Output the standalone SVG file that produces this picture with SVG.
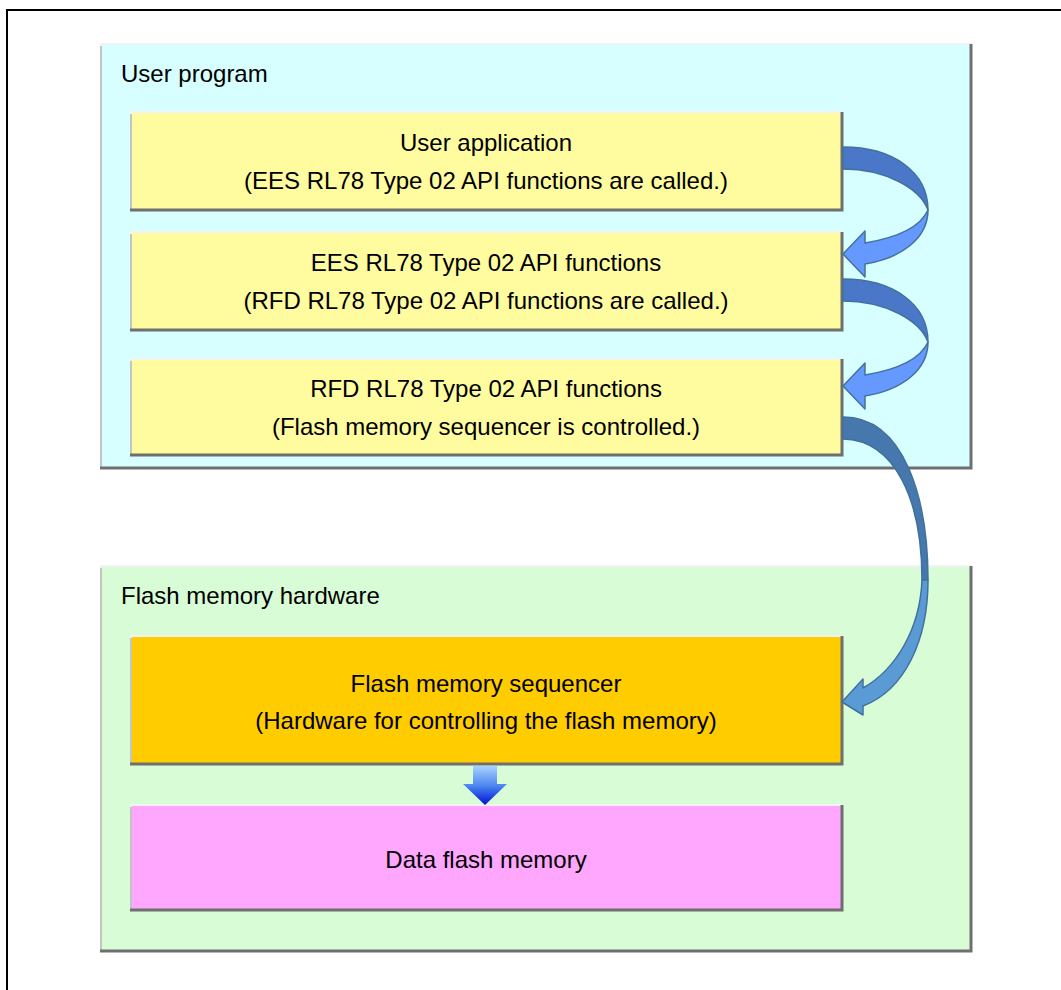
<svg xmlns="http://www.w3.org/2000/svg" width="1061" height="990" viewBox="0 0 1061 990">
<style>
text{font-family:"Liberation Sans",Arial,sans-serif;font-size:24px;fill:#000}
.c{text-anchor:middle}
.hi{fill:none;stroke:#f2f2f2;stroke-width:2}
.lo{fill:none;stroke:#c4c4c4;stroke-width:2}
.dk{fill:none;stroke:#6f6f6f;stroke-width:3}
.arrA{stroke:#41719c;stroke-width:1.5;stroke-linejoin:round}
</style>
<defs>
<linearGradient id="gdown" x1="0" y1="0" x2="0" y2="1">
<stop offset="0" stop-color="#a9d2ff"/>
<stop offset="0.5" stop-color="#4d88f0"/>
<stop offset="1" stop-color="#0010d8"/>
</linearGradient>
</defs>
<rect width="1061" height="990" fill="#fff"/>
<rect x="7" y="10" width="1100" height="1000" fill="none" stroke="#000" stroke-width="2"/>

<g id="user-program">
<rect x="100" y="43" width="872" height="426" fill="#d7ffff"/>
<polyline class="hi" points="101,468 101,44 972,44"/>
<polyline class="lo" points="101,468 101,46"/>
<polyline class="dk" points="971,44 971,468 100,468"/>
<text x="121" y="82">User program</text>
</g>

<g id="flash-hardware">
<rect x="100" y="565" width="872" height="387" fill="#d8fcd6"/>
<polyline class="hi" points="101,951 101,566 972,566"/>
<polyline class="lo" points="101,951 101,568"/>
<polyline class="dk" points="971,566 971,951 100,951"/>
<text x="121" y="604">Flash memory hardware</text>
</g>

<g id="user-application">
<rect x="130" y="111" width="713" height="100" fill="#fffca0"/>
<polyline class="hi" points="131,210 131,112 843,112"/>
<polyline class="lo" points="131,210 131,114"/>
<polyline class="dk" points="842,112 842,210 130,210"/>
<text class="c" x="486" y="151">User application</text>
<text class="c" x="486" y="189">(EES RL78 Type 02 API functions are called.)</text>
</g>

<g id="ees-api">
<rect x="130" y="231" width="713" height="100" fill="#fffca0"/>
<polyline class="hi" points="131,330 131,232 843,232"/>
<polyline class="lo" points="131,330 131,234"/>
<polyline class="dk" points="842,232 842,330 130,330"/>
<text class="c" x="486" y="271">EES RL78 Type 02 API functions</text>
<text class="c" x="486" y="309">(RFD RL78 Type 02 API functions are called.)</text>
</g>

<g id="rfd-api">
<rect x="130" y="358" width="713" height="98" fill="#fffca0"/>
<polyline class="hi" points="131,455 131,359 843,359"/>
<polyline class="lo" points="131,455 131,361"/>
<polyline class="dk" points="842,359 842,455 130,455"/>
<text class="c" x="486" y="397">RFD RL78 Type 02 API functions</text>
<text class="c" x="486" y="435">(Flash memory sequencer is controlled.)</text>
</g>

<g id="sequencer">
<rect x="130" y="635" width="713" height="130" fill="#ffcc00"/>
<polyline class="hi" points="131,764 131,636 843,636"/>
<polyline class="lo" points="131,764 131,638"/>
<polyline class="dk" points="842,636 842,764 130,764"/>
<text class="c" x="486" y="692">Flash memory sequencer</text>
<text class="c" x="486" y="729">(Hardware for controlling the flash memory)</text>
</g>

<g id="data-flash">
<rect x="130" y="804" width="713" height="107" fill="#ffa6ff"/>
<polyline class="hi" points="131,910 131,805 843,805"/>
<polyline class="lo" points="131,910 131,807"/>
<polyline class="dk" points="842,805 842,910 130,910"/>
<text class="c" x="486" y="868">Data flash memory</text>
</g>

<g id="connectors">
<g id="arrow-1">
<path class="arrA" fill="#4a77c8" d="M843,147 C893,147 928,172 928,210 C920,188 885,169 843,169 Z"/>
<path class="arrA" fill="#6699ff" d="M928,210 C928,238 902,258 865,264 L865,277 L843,254 L865,231 L865,243 C895,238 920,228 928,210 Z"/>
</g>
<g id="arrow-2" transform="translate(0,132)">
<path class="arrA" fill="#4a77c8" d="M843,147 C893,147 928,172 928,210 C920,188 885,169 843,169 Z"/>
<path class="arrA" fill="#6699ff" d="M928,210 C928,238 902,258 865,264 L865,277 L843,254 L865,231 L865,243 C895,238 920,228 928,210 Z"/>
</g>
<g id="arrow-3">
<path class="arrA" fill="#4677ad" d="M843,417 C905,417 928,500 928,580 L922,580 C922,500 895,440 843,439 Z"/>
<path class="arrA" fill="#5b9bd5" d="M928,580 C928,640 905,690 863,706 L863,715 L842,702 L863,679 L863,688 C895,670 920,630 922,580 Z"/>
</g>
<polygon id="arrow-4" points="473,766 497,766 497,784 507,784 485,805 463,784 473,784" fill="url(#gdown)"/>
</g>
</svg>
